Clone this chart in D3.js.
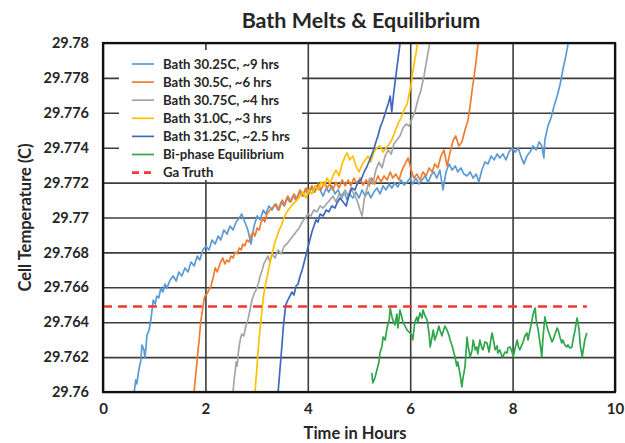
<!DOCTYPE html>
<html><head><meta charset="utf-8">
<script src="https://cdn.jsdelivr.net/npm/d3@7"></script>
<style>
body{margin:0;background:#fff}
text{font-family:Lato,"Open Sans",sans-serif;font-weight:bold;fill:#262626}
</style>
</head><body>
<svg id="chart" width="625" height="443"></svg>
<script>
// ---------- DATA ----------
const chartTitle = "Bath Melts & Equilibrium";
const xTitle = "Time in Hours";
const yTitle = "Cell Temperature (C)";
const xTickValues = [0, 2, 4, 6, 8, 10];
const yTickValues = [29.76, 29.762, 29.764, 29.766, 29.768, 29.77, 29.772, 29.774, 29.776, 29.778, 29.78];
const yTickLabels = ["29.76", "29.762", "29.764", "29.766", "29.768", "29.77", "29.772", "29.774", "29.776", "29.778", "29.78"];
const seriesNames = ["Bath 30.25C, ~9 hrs", "Bath 30.5C, ~6 hrs", "Bath 30.75C, ~4 hrs", "Bath 31.0C, ~3 hrs", "Bath 31.25C, ~2.5 hrs", "Bi-phase Equilibrium", "Ga Truth"];

const bath3025 = [[0.61,29.76000],[0.64,29.76069],[0.66,29.76046],[0.70,29.76126],[0.74,29.76183],[0.76,29.76269],[0.80,29.76241],[0.82,29.76195],[0.86,29.76327],[0.90,29.76355],[0.94,29.76424],[0.98,29.76527],[1.02,29.76504],[1.05,29.76550],[1.09,29.76539],[1.13,29.76596],[1.17,29.76573],[1.21,29.76619],[1.25,29.76596],[1.31,29.76642],[1.37,29.76665],[1.43,29.76636],[1.48,29.76688],[1.54,29.76665],[1.60,29.76711],[1.66,29.76688],[1.72,29.76745],[1.78,29.76722],[1.84,29.76779],[1.89,29.76756],[1.95,29.76814],[2.01,29.76837],[2.07,29.76814],[2.13,29.76871],[2.19,29.76848],[2.25,29.76894],[2.30,29.76871],[2.36,29.76928],[2.42,29.76905],[2.48,29.76951],[2.54,29.76928],[2.60,29.76974],[2.66,29.76997],[2.71,29.77020],[2.77,29.76974],[2.83,29.76928],[2.89,29.76848],[2.95,29.76951],[3.01,29.77009],[3.07,29.76986],[3.13,29.77043],[3.18,29.77020],[3.24,29.77066],[3.30,29.77043],[3.36,29.77077],[3.42,29.77043],[3.48,29.77089],[3.54,29.77066],[3.59,29.77112],[3.65,29.77089],[3.71,29.77123],[3.77,29.77100],[3.83,29.77146],[3.89,29.77123],[3.95,29.77158],[4.00,29.77135],[4.06,29.77169],[4.12,29.77146],[4.18,29.77181],[4.24,29.77158],[4.30,29.77123],[4.36,29.77169],[4.41,29.77146],[4.47,29.77181],[4.53,29.77135],[4.59,29.77158],[4.65,29.77123],[4.71,29.77146],[4.77,29.77100],[4.82,29.77135],[4.88,29.77112],[4.94,29.77146],[5.00,29.77112],[5.06,29.77158],[5.12,29.77123],[5.18,29.77146],[5.23,29.77112],[5.29,29.77146],[5.35,29.77169],[5.41,29.77135],[5.47,29.77181],[5.53,29.77158],[5.59,29.77192],[5.64,29.77169],[5.70,29.77198],[5.76,29.77175],[5.82,29.77215],[5.88,29.77186],[5.94,29.77203],[6.00,29.77226],[6.05,29.77192],[6.11,29.77226],[6.17,29.77192],[6.23,29.77215],[6.29,29.77238],[6.35,29.77203],[6.41,29.77244],[6.46,29.77261],[6.52,29.77226],[6.58,29.77272],[6.64,29.77158],[6.70,29.77261],[6.76,29.77307],[6.82,29.77272],[6.88,29.77295],[6.93,29.77261],[6.99,29.77284],[7.05,29.77249],[7.11,29.77238],[7.17,29.77261],[7.23,29.77226],[7.29,29.77249],[7.34,29.77203],[7.40,29.77272],[7.46,29.77318],[7.52,29.77307],[7.58,29.77352],[7.64,29.77330],[7.70,29.77364],[7.75,29.77341],[7.81,29.77364],[7.87,29.77330],[7.93,29.77375],[7.99,29.77398],[8.05,29.77375],[8.11,29.77398],[8.16,29.77352],[8.22,29.77307],[8.28,29.77352],[8.34,29.77375],[8.40,29.77410],[8.46,29.77387],[8.52,29.77433],[8.57,29.77410],[8.61,29.77341],[8.63,29.77444],[8.69,29.77524],[8.75,29.77570],[8.81,29.77639],[8.87,29.77696],[8.93,29.77765],[8.98,29.77845],[9.04,29.77926],[9.08,29.77989],[9.12,29.78029]];

const bath305 = [[1.78,29.76000],[1.80,29.76069],[1.82,29.76126],[1.84,29.76183],[1.86,29.76252],[1.88,29.76298],[1.89,29.76344],[1.91,29.76401],[1.93,29.76447],[1.95,29.76481],[1.97,29.76527],[1.99,29.76550],[2.03,29.76562],[2.07,29.76585],[2.11,29.76607],[2.15,29.76653],[2.19,29.76711],[2.23,29.76688],[2.27,29.76722],[2.30,29.76745],[2.34,29.76768],[2.38,29.76734],[2.42,29.76756],[2.46,29.76745],[2.50,29.76779],[2.54,29.76768],[2.58,29.76802],[2.62,29.76791],[2.66,29.76825],[2.70,29.76814],[2.73,29.76848],[2.77,29.76837],[2.81,29.76871],[2.85,29.76860],[2.89,29.76894],[2.93,29.76917],[2.97,29.76894],[3.01,29.76940],[3.05,29.76928],[3.09,29.76974],[3.13,29.76997],[3.16,29.76974],[3.20,29.77020],[3.26,29.77043],[3.32,29.77060],[3.38,29.77077],[3.44,29.77043],[3.50,29.77100],[3.55,29.77072],[3.61,29.77123],[3.67,29.77089],[3.73,29.77135],[3.79,29.77106],[3.85,29.77158],[3.91,29.77123],[3.96,29.77169],[4.02,29.77135],[4.08,29.77181],[4.14,29.77146],[4.20,29.77192],[4.26,29.77158],[4.32,29.77203],[4.38,29.77169],[4.43,29.77192],[4.49,29.77158],[4.55,29.77203],[4.61,29.77169],[4.67,29.77215],[4.73,29.77181],[4.79,29.77215],[4.84,29.77181],[4.90,29.77226],[4.96,29.77192],[5.02,29.77226],[5.08,29.77186],[5.14,29.77215],[5.20,29.77181],[5.25,29.77226],[5.31,29.77192],[5.37,29.77238],[5.43,29.77203],[5.49,29.77238],[5.55,29.77215],[5.61,29.77261],[5.66,29.77226],[5.72,29.77249],[5.78,29.77215],[5.84,29.77272],[5.90,29.77307],[5.96,29.77341],[6.02,29.77272],[6.07,29.77226],[6.13,29.77249],[6.19,29.77215],[6.25,29.77261],[6.31,29.77238],[6.37,29.77284],[6.43,29.77261],[6.48,29.77307],[6.54,29.77284],[6.60,29.77352],[6.66,29.77387],[6.72,29.77295],[6.78,29.77375],[6.84,29.77444],[6.89,29.77467],[6.95,29.77410],[7.01,29.77433],[7.07,29.77501],[7.13,29.77559],[7.17,29.77639],[7.21,29.77731],[7.25,29.77811],[7.29,29.77903],[7.32,29.77983],[7.34,29.78029]];

const bath3075 = [[2.54,29.76000],[2.56,29.76069],[2.58,29.76115],[2.60,29.76172],[2.62,29.76149],[2.64,29.76218],[2.66,29.76264],[2.68,29.76298],[2.71,29.76332],[2.75,29.76321],[2.79,29.76378],[2.83,29.76413],[2.87,29.76470],[2.91,29.76527],[2.95,29.76562],[2.99,29.76585],[3.03,29.76619],[3.07,29.76665],[3.11,29.76699],[3.14,29.76734],[3.18,29.76756],[3.22,29.76779],[3.26,29.76745],[3.30,29.76791],[3.36,29.76768],[3.42,29.76814],[3.48,29.76791],[3.54,29.76837],[3.59,29.76848],[3.65,29.76871],[3.71,29.76894],[3.77,29.76917],[3.83,29.76940],[3.89,29.76974],[3.95,29.76997],[4.00,29.77020],[4.06,29.77009],[4.12,29.77043],[4.18,29.77032],[4.24,29.77066],[4.30,29.77054],[4.38,29.77083],[4.43,29.77100],[4.49,29.77123],[4.55,29.77089],[4.61,29.77135],[4.67,29.77112],[4.73,29.77158],[4.79,29.77123],[4.84,29.77169],[4.90,29.77135],[4.96,29.77100],[5.02,29.77043],[5.06,29.77009],[5.10,29.77100],[5.16,29.77169],[5.21,29.77226],[5.27,29.77192],[5.33,29.77272],[5.39,29.77318],[5.45,29.77284],[5.51,29.77352],[5.57,29.77387],[5.63,29.77364],[5.68,29.77421],[5.74,29.77444],[5.80,29.77467],[5.86,29.77513],[5.92,29.77536],[5.98,29.77524],[6.04,29.77570],[6.09,29.77605],[6.15,29.77673],[6.21,29.77731],[6.27,29.77811],[6.31,29.77880],[6.35,29.77948],[6.39,29.78017]];

const bath310 = [[2.97,29.76000],[2.99,29.76080],[3.01,29.76149],[3.03,29.76241],[3.05,29.76309],[3.07,29.76367],[3.09,29.76424],[3.11,29.76481],[3.13,29.76539],[3.16,29.76596],[3.20,29.76653],[3.24,29.76711],[3.28,29.76768],[3.32,29.76814],[3.36,29.76860],[3.40,29.76894],[3.44,29.76928],[3.48,29.76951],[3.52,29.76986],[3.55,29.77009],[3.59,29.77032],[3.65,29.77054],[3.71,29.77077],[3.79,29.77100],[3.85,29.77123],[3.91,29.77146],[3.96,29.77112],[4.02,29.77158],[4.08,29.77135],[4.14,29.77181],[4.20,29.77158],[4.26,29.77203],[4.32,29.77181],[4.38,29.77226],[4.43,29.77192],[4.49,29.77238],[4.55,29.77272],[4.61,29.77238],[4.67,29.77307],[4.73,29.77352],[4.77,29.77370],[4.82,29.77330],[4.88,29.77352],[4.94,29.77295],[5.00,29.77261],[5.06,29.77301],[5.12,29.77330],[5.18,29.77352],[5.23,29.77318],[5.29,29.77375],[5.35,29.77398],[5.41,29.77410],[5.47,29.77375],[5.53,29.77398],[5.59,29.77421],[5.64,29.77444],[5.70,29.77490],[5.76,29.77536],[5.82,29.77570],[5.88,29.77616],[5.94,29.77650],[5.98,29.77708],[6.02,29.77765],[6.05,29.77834],[6.09,29.77903],[6.13,29.77971],[6.15,29.78017]];

const bath3125 = [[3.42,29.76000],[3.44,29.76069],[3.46,29.76143],[3.48,29.76212],[3.50,29.76287],[3.52,29.76367],[3.54,29.76424],[3.57,29.76499],[3.61,29.76527],[3.65,29.76550],[3.69,29.76573],[3.73,29.76556],[3.77,29.76607],[3.81,29.76619],[3.85,29.76665],[3.89,29.76699],[3.93,29.76745],[3.96,29.76779],[4.00,29.76825],[4.04,29.76871],[4.08,29.76917],[4.12,29.76951],[4.16,29.76986],[4.20,29.76974],[4.24,29.77020],[4.30,29.77009],[4.36,29.77043],[4.41,29.77032],[4.47,29.77066],[4.53,29.77054],[4.57,29.77083],[4.63,29.77112],[4.69,29.77089],[4.75,29.77066],[4.80,29.77123],[4.86,29.77169],[4.92,29.77158],[4.98,29.77203],[5.04,29.77215],[5.10,29.77261],[5.16,29.77295],[5.21,29.77330],[5.27,29.77375],[5.33,29.77433],[5.37,29.77467],[5.41,29.77513],[5.47,29.77559],[5.53,29.77616],[5.57,29.77650],[5.61,29.77696],[5.64,29.77605],[5.68,29.77719],[5.72,29.77811],[5.76,29.77903],[5.80,29.77994],[5.82,29.78029]];

const biphase = [[5.25,29.76109],[5.27,29.76052],[5.31,29.76080],[5.35,29.76126],[5.39,29.76172],[5.41,29.76223],[5.45,29.76264],[5.47,29.76315],[5.51,29.76298],[5.55,29.76372],[5.59,29.76413],[5.61,29.76481],[5.64,29.76436],[5.66,29.76413],[5.70,29.76384],[5.74,29.76447],[5.76,29.76367],[5.80,29.76470],[5.84,29.76424],[5.86,29.76401],[5.90,29.76378],[5.94,29.76355],[6.00,29.76338],[6.04,29.76321],[6.05,29.76298],[6.09,29.76401],[6.13,29.76430],[6.15,29.76401],[6.19,29.76453],[6.23,29.76424],[6.25,29.76470],[6.29,29.76436],[6.33,29.76413],[6.37,29.76332],[6.39,29.76258],[6.43,29.76321],[6.45,29.76355],[6.48,29.76298],[6.52,29.76332],[6.56,29.76378],[6.58,29.76355],[6.62,29.76321],[6.64,29.76344],[6.68,29.76378],[6.72,29.76355],[6.76,29.76321],[6.78,29.76298],[6.82,29.76264],[6.84,29.76241],[6.88,29.76195],[6.91,29.76149],[6.93,29.76172],[6.97,29.76109],[7.01,29.76029],[7.03,29.76080],[7.07,29.76143],[7.09,29.76229],[7.11,29.76315],[7.13,29.76264],[7.17,29.76201],[7.21,29.76241],[7.23,29.76298],[7.27,29.76241],[7.30,29.76258],[7.32,29.76218],[7.36,29.76298],[7.40,29.76252],[7.42,29.76241],[7.46,29.76287],[7.50,29.76281],[7.54,29.76229],[7.58,29.76309],[7.60,29.76338],[7.64,29.76275],[7.66,29.76241],[7.70,29.76264],[7.71,29.76223],[7.75,29.76241],[7.79,29.76206],[7.81,29.76201],[7.85,29.76229],[7.89,29.76223],[7.91,29.76252],[7.95,29.76258],[7.99,29.76229],[8.01,29.76201],[8.05,29.76252],[8.09,29.76298],[8.11,29.76264],[8.14,29.76241],[8.18,29.76270],[8.20,29.76281],[8.24,29.76321],[8.28,29.76338],[8.30,29.76298],[8.34,29.76355],[8.38,29.76413],[8.40,29.76447],[8.44,29.76481],[8.46,29.76413],[8.50,29.76355],[8.54,29.76270],[8.57,29.76201],[8.59,29.76298],[8.63,29.76430],[8.67,29.76378],[8.69,29.76355],[8.73,29.76321],[8.77,29.76287],[8.79,29.76298],[8.83,29.76332],[8.87,29.76367],[8.89,29.76355],[8.93,29.76309],[8.96,29.76281],[8.98,29.76298],[9.02,29.76270],[9.06,29.76258],[9.08,29.76270],[9.12,29.76252],[9.16,29.76258],[9.18,29.76298],[9.22,29.76355],[9.26,29.76424],[9.28,29.76390],[9.30,29.76355],[9.32,29.76270],[9.36,29.76201],[9.38,29.76241],[9.41,29.76298],[9.45,29.76338]];

const gaTruth = [[0, 29.7649], [9.45, 29.7649]];

const seriesData = [bath3025, bath305, bath3075, bath310, bath3125, biphase, gaTruth];
const seriesColors = ["#5b9bd5", "#ed7d31", "#a5a5a5", "#ffc000", "#4068c0", "#2fa64a", "#ee3a2e"];

// ---------- LAYOUT ----------
const W = 625, H = 443;
const m = {left: 103, right: 10, top: 43, bottom: 51};
const svg = d3.select("#chart");
svg.append("rect").attr("width", W).attr("height", H).attr("fill", "#fff");

const x = d3.scaleLinear().domain([0, 10]).range([m.left, W - m.right]);
const y = d3.scaleLinear().domain([29.76, 29.78]).range([H - m.bottom, m.top]);

const gx = svg.append("g").attr("transform", `translate(0,${H - m.bottom})`)
  .call(d3.axisBottom(x).tickValues(xTickValues).tickFormat(d3.format("d"))
    .tickSizeInner(-(H - m.top - m.bottom)).tickSizeOuter(0).tickPadding(11));
gx.select(".domain").remove();
gx.selectAll("line").attr("stroke", "#3c3c3c").attr("stroke-width", 1.6);
gx.selectAll("text").style("font-size", "15px").attr("fill", "#262626");

const gy = svg.append("g").attr("transform", `translate(${m.left},0)`)
  .call(d3.axisLeft(y).tickValues(yTickValues).tickFormat((d, i) => yTickLabels[i])
    .tickSizeInner(-(W - m.left - m.right)).tickSizeOuter(0).tickPadding(14));
gy.select(".domain").remove();
gy.selectAll("line").attr("stroke", "#3c3c3c").attr("stroke-width", 1.6);
gy.selectAll("text").style("font-size", "14.5px").attr("fill", "#262626");

svg.append("clipPath").attr("id", "clip").append("rect")
  .attr("x", m.left).attr("y", m.top).attr("width", W - m.left - m.right).attr("height", H - m.top - m.bottom);

const line = d3.line().x(d => x(d[0])).y(d => y(d[1]));
const lines = svg.append("g").attr("clip-path", "url(#clip)");
seriesData.forEach((data, i) => {
  const p = lines.append("path").datum(data).attr("d", line)
    .attr("fill", "none").attr("stroke", seriesColors[i])
    .attr("stroke-width", i === 6 ? 2.6 : 1.7).attr("stroke-linejoin", "round");
  if (i === 6) p.attr("stroke-dasharray", "9,6");
});

const lg = svg.append("g");
lg.append("rect").attr("x", 119).attr("y", 50).attr("width", 183).attr("height", 130).attr("fill", "#fff");
seriesNames.forEach((name, i) => {
  const yy = 64 + i * 18.1;
  const l = lg.append("line").attr("x1", 132).attr("x2", 154).attr("y1", yy).attr("y2", yy)
    .attr("stroke", seriesColors[i]).attr("stroke-width", i === 6 ? 2.6 : 1.7);
  if (i === 6) l.attr("stroke-dasharray", "7,5");
  lg.append("text").attr("x", 163).attr("y", yy).attr("dy", "0.35em")
    .style("font-size", "13.2px").text(name);
});

svg.append("rect").attr("x", m.left).attr("y", m.top)
  .attr("width", W - m.left - m.right).attr("height", H - m.top - m.bottom)
  .attr("fill", "none").attr("stroke", "#111").attr("stroke-width", 2.2);

svg.append("text").attr("x", 361).attr("y", 20).attr("dy", "0.35em").attr("text-anchor", "middle")
  .style("font-size", "21.5px").text(chartTitle);
svg.append("text").attr("x", 355).attr("y", 433).attr("dy", "0.35em").attr("text-anchor", "middle")
  .style("font-size", "16.5px").text(xTitle);
svg.append("text").attr("transform", `translate(25,${(m.top + H - m.bottom) / 2}) rotate(-90)`)
  .attr("dy", "0.35em").attr("text-anchor", "middle").style("font-size", "16.5px").text(yTitle);
</script>
</body></html>
